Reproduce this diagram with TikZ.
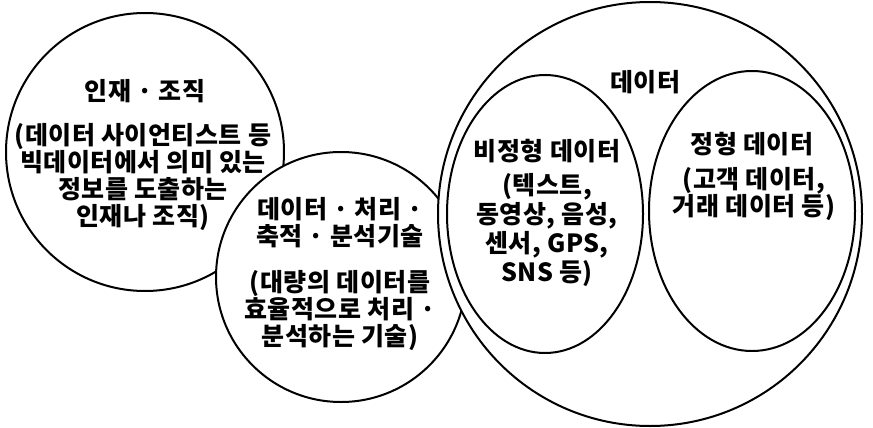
\documentclass[tikz,border=0pt]{standalone}
\usepackage{fontspec}
\setmainfont{Noto Sans CJK KR}[LetterSpace=2]
\usetikzlibrary{shapes.geometric}

\begin{document}
\begin{tikzpicture}[x=1pt,y=-1pt,
  ring/.style={circle, draw=black, line width=2pt, fill=white, inner sep=0pt},
  egg/.style={ellipse, draw=black, line width=2pt, inner sep=0pt},
  txt/.style={font=\fontsize{25}{27}\selectfont\bfseries, align=center, inner sep=1pt}]
\useasboundingbox (0,0) rectangle (873,428);

\node[ring, minimum size=278pt] (people) at (145,152) {};
\node[ring, minimum size=250pt] (tech) at (341,277) {};
\node[ring, minimum size=424pt] (data) at (650,214) {};
\node[egg, minimum width=196pt, minimum height=278pt] (unstructured) at (545,214) {};
\node[egg, minimum width=206pt, minimum height=280pt] (structured) at (752,211) {};

\node[txt] (people title) at (145,91) {인재 · 조직};
\node[txt] (people text) at (143,177) {(데이터 사이언티스트 등\\빅데이터에서 의미 있는\\정보를 도출하는\\인재나 조직)};

\node[txt] (tech title) at (340,223) {데이터 · 처리 ·\\축적 · 분석기술};
\node[txt] (tech text) at (340,310) {(대량의 데이터를\\효율적으로 처리 ·\\분석하는 기술)};

\node[txt] (data title) at (645,82) {데이터};
\node[txt] (unstructured title) at (547,151) {비정형 데이터};
\node[txt, font=\fontsize{25}{29}\selectfont\bfseries] (unstructured text) at (547,230) {(텍스트,\\동영상, 음성,\\센서, GPS,\\SNS 등)};
\node[txt] (structured title) at (752,144) {정형 데이터};
\node[txt] (structured text) at (754,194) {(고객 데이터,\\거래 데이터 등)};

\end{tikzpicture}
\end{document}
